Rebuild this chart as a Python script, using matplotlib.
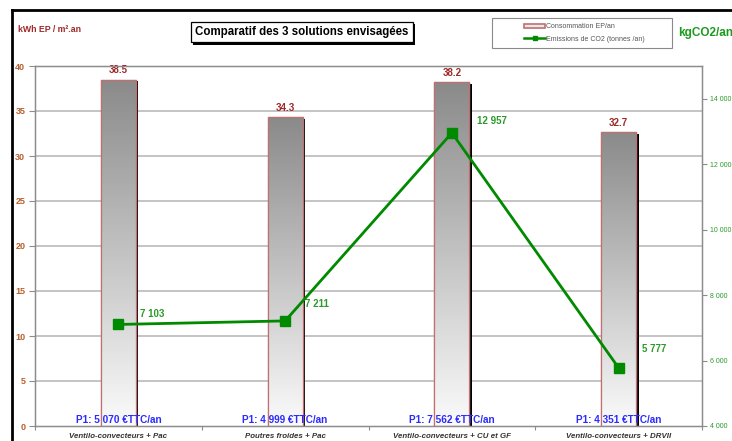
import numpy as np
import matplotlib
matplotlib.use("Agg")
import matplotlib.pyplot as plt
from matplotlib import patheffects as pe
from matplotlib.colors import LinearSegmentedColormap
from matplotlib.patches import Rectangle, Patch
from matplotlib.lines import Line2D

plt.rcParams['font.family'] = ['Liberation Sans', 'DejaVu Sans']

# --- data ---------------------------------------------------------------
categories = ["Ventilo-convecteurs + Pac", "Poutres froides + Pac",
              "Ventilo-convecteurs + CU et GF", "Ventilo-convecteurs + DRVII"]
conso_ep = [38.5, 34.3, 38.2, 32.7]              # kWh EP / m².an
emissions_co2 = [7103, 7211, 12957, 5777]         # kgCO2/an
co2_labels = ["7 103", "7 211", "12 957", "5 777"]
p1_labels = ["P1: 5 070 €TTC/an", "P1: 4 999 €TTC/an",
             "P1: 7 562 €TTC/an", "P1: 4 351 €TTC/an"]
left_ticks = [0, 5, 10, 15, 20, 25, 30, 35, 40]
right_ticks = [4000, 6000, 8000, 10000, 12000, 14000]
right_ticklabels = ["4 000", "6 000", "8 000", "10 000", "12 000", "14 000"]

# --- styles -------------------------------------------------------------
W, H = 732, 441
RED = "#a02828"
BROWN = "#b8602f"
GREEN = "#008a00"
BLUE = "#2b2bff"
EDGE = "#c07070"
GRID = "#c4c4c4"
AXIS = "#8c8c8c"

fig = plt.figure(figsize=(W / 100, H / 100), dpi=100)
fig.patch.set_facecolor("white")

ax = fig.add_axes([35 / W, 1 - 426 / H, (702 - 35) / W, (426 - 66) / H])
x = np.arange(len(categories))
ax.set_xlim(-0.5, len(categories) - 0.5)
ax.set_ylim(0, 40)

# gridlines
for v in left_ticks[1:]:
    ax.axhline(v, color=GRID, lw=1.4, zorder=0)

# bars with gradient fill, red outline and black drop shadow
cmap = LinearSegmentedColormap.from_list("barfill", ["#8a8a8a", "#fbfbfb"])
grad = np.linspace(0, 1, 256).reshape(-1, 1)
bw = 0.21
bars = ax.bar(x, conso_ep, width=bw, color="white", edgecolor=EDGE, lw=0.9, zorder=2)
for b in bars:
    b.set_path_effects([pe.SimplePatchShadow(offset=(1.8, -1.4), shadow_rgbFace="black",
                                             alpha=1.0), pe.Normal()])
    x0, w, h = b.get_x(), b.get_width(), b.get_height()
    im = ax.imshow(grad, cmap=cmap, extent=[x0, x0 + w, 0, h], aspect="auto",
                   zorder=2.1, origin="upper")
    im.set_clip_path(b)
    ax.add_patch(Rectangle((x0, 0), w, h, fill=False, edgecolor=EDGE, lw=0.9, zorder=2.2))
    ax.text(b.get_x() + w / 2, h + 0.45, f"{h:.1f}", ha="center", va="bottom",
            color=RED, fontsize=7, fontweight="bold", zorder=5)
ax.set_xlim(-0.5, len(categories) - 0.5)
ax.set_ylim(0, 40)

# P1 cost labels along the base of each bar
for xi, lab in zip(x, p1_labels):
    ax.text(xi, 0.7, lab, ha="center", va="center", color=BLUE, fontsize=7.2,
            fontweight="bold", zorder=6)

# axes styling
for s in ["left", "right", "bottom", "top"]:
    ax.spines[s].set_color(AXIS)
    ax.spines[s].set_linewidth(1.0)
ax.set_yticks(left_ticks)
ax.tick_params(axis="y", colors=AXIS, length=4, width=0.8, pad=3)
for t in ax.get_yticklabels():
    t.set_color(BROWN)
    t.set_fontsize(6.5)
    t.set_fontweight("bold")
ax.set_xticks(x)
ax.set_xticklabels(categories, fontsize=5.7, fontstyle="italic", fontweight="bold",
                   color="#333333")
ax.tick_params(axis="x", which="major", length=0, pad=5)
ax.set_xticks(np.arange(-0.5, len(categories)), minor=True)
ax.tick_params(axis="x", which="minor", length=3, color=AXIS, width=0.8)

# CO2 emissions on the secondary axis
ax2 = ax.twinx()
ax2.set_ylim(4000, 15000)
ax2.plot(x, emissions_co2, color=GREEN, lw=2, marker="s", markersize=6.5, zorder=4)
offsets = [(22, 10), (20, 17), (25, 12), (23, 19)]
for xi, v, lab, off in zip(x, emissions_co2, co2_labels, offsets):
    ax2.annotate(lab, (xi, v), xytext=off, textcoords="offset pixels", ha="left",
                 va="center", color="#2a9a2a", fontsize=7, fontweight="bold")
ax2.set_yticks(right_ticks)
ax2.set_yticklabels(right_ticklabels)
ax2.tick_params(axis="y", colors=AXIS, length=3.5, width=0.8, pad=2)
for t in ax2.get_yticklabels():
    t.set_color("#2a9a2a")
    t.set_fontsize(5.0)
for s in ax2.spines.values():
    s.set_color(AXIS)

# axis titles
fig.text(18 / W, 1 - 30 / H, "kWh EP / m².an", color=RED, fontsize=6.3,
         fontweight="bold", ha="left", va="center")
fig.text(678 / W, 1 - 33 / H, "kgCO2/an", color="#1c9a1c", fontsize=8.5,
         fontweight="bold", ha="left", va="center")

# boxed chart title with shadow
title = fig.text(302 / W, 1 - 32 / H, "Comparatif des 3 solutions envisagées",
                 ha="center", va="center", fontsize=8.3, fontweight="bold", color="black",
                 bbox=dict(boxstyle="square,pad=0.38", fc="white", ec="black", lw=0.9))
title.get_bbox_patch().set_path_effects([
    pe.SimplePatchShadow(offset=(1.6, -1.6), shadow_rgbFace="black", alpha=1.0),
    pe.Normal()])

# legend box
fig.add_artist(Rectangle((492 / W, 1 - 48 / H), 180 / W, 30 / H, transform=fig.transFigure,
                         fill=True, fc="white", ec="#8a8a8a", lw=0.8))
handles = [Patch(facecolor="#e8e8e8", edgecolor=EDGE, lw=1.2),
           Line2D([0], [0], color=GREEN, lw=1.8, marker="s", markersize=3.5)]
leg = fig.legend(handles, ["Consommation EP/an", "Emissions de CO2 (tonnes /an)"],
                 loc="center left", bbox_to_anchor=(521 / W, 1 - 33 / H), frameon=False,
                 fontsize=5.0, handlelength=3.0, handleheight=0.6, handletextpad=0.1,
                 labelspacing=0.8, borderpad=0)
for t in leg.get_texts():
    t.set_color("#555555")

# outer frame of the chart sheet
fig.add_artist(Line2D([12 / W, 12 / W], [0, 1 - 10 / H], transform=fig.transFigure,
                      color="black", lw=2))
fig.add_artist(Line2D([12 / W, 1], [1 - 10 / H, 1 - 10 / H], transform=fig.transFigure,
                      color="black", lw=2))

fig.savefig("out.png", dpi=100, facecolor="white")
